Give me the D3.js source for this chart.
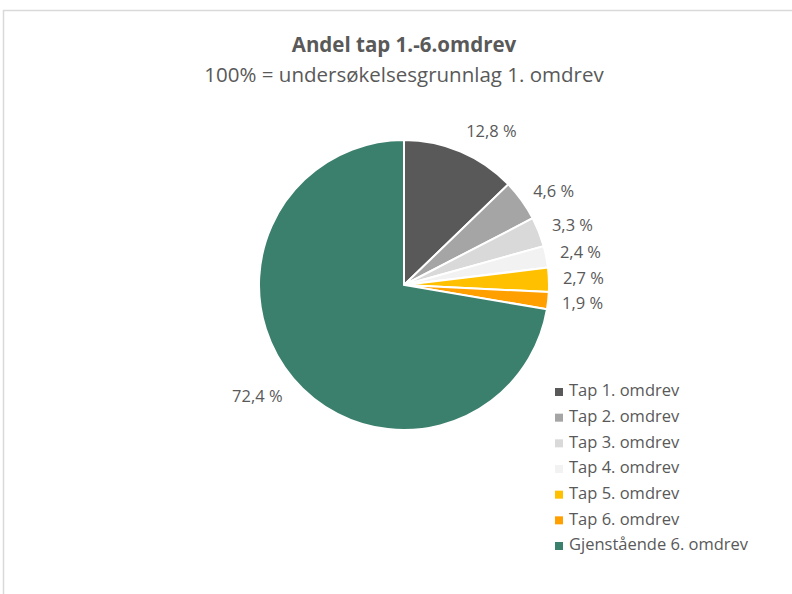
<!DOCTYPE html>
<html>
<head>
<meta charset="utf-8">
<script src="https://cdn.jsdelivr.net/npm/d3@7"></script>
<style>
  body { margin: 0; background: #fff; }
  text { font-family: "Open Sans", "Liberation Sans", sans-serif; fill: #595959; }
</style>
</head>
<body>
<div id="chart"></div>
<script>
// data
let categories = ["Tap 1. omdrev", "Tap 2. omdrev", "Tap 3. omdrev", "Tap 4. omdrev",
                  "Tap 5. omdrev", "Tap 6. omdrev", "Gjenstående 6. omdrev"];
let values = [12.8, 4.6, 3.3, 2.4, 2.7, 1.9, 72.4];
let valueLabels = ["12,8 %", "4,6 %", "3,3 %", "2,4 %", "2,7 %", "1,9 %", "72,4 %"];
let colors = ["#595959", "#a5a5a5", "#d9d9d9", "#f2f2f2", "#ffc000", "#ffa000", "#3b7f6d"];

let svgWidth = 792;
let svgHeight = 594;

let svg = d3.select("#chart")
  .append("svg")
  .attr("width", svgWidth)
  .attr("height", svgHeight);

// frame (only top and left edges visible in the crop)
svg.append("path")
  .attr("d", `M3.5,${svgHeight} V10.5 H${svgWidth}`)
  .attr("fill", "none")
  .attr("stroke", "#d9d9d9")
  .attr("stroke-width", 1.5);

// titles
svg.append("text")
  .attr("x", 404).attr("y", 52)
  .attr("text-anchor", "middle")
  .attr("font-size", "20.5px")
  .attr("font-weight", "bold")
  .text("Andel tap 1.-6.omdrev");

svg.append("text")
  .attr("x", 404).attr("y", 82)
  .attr("text-anchor", "middle")
  .attr("font-size", "20.5px")
  .text("100% = undersøkelsesgrunnlag 1. omdrev");

// pie
let cx = 404, cy = 285, radius = 145;

let pie = d3.pie().sort(null).value(d => d);
let arc = d3.arc().innerRadius(0).outerRadius(radius);

let pieGroup = svg.append("g")
  .attr("transform", `translate(${cx},${cy})`);

let arcs = pie(values);

pieGroup.selectAll("path")
  .data(arcs)
  .enter()
  .append("path")
  .attr("d", arc)
  .attr("fill", (d, i) => colors[i])
  .attr("stroke", "#fff")
  .attr("stroke-width", 2);

// outside labels: anchor near the slice middle, just beyond the rim
let labelR = radius + 14;
let lastY = -Infinity;
pieGroup.selectAll(".lbl")
  .data(arcs)
  .enter()
  .append("text")
  .attr("class", "lbl")
  .attr("font-size", "16.5px")
  .attr("dominant-baseline", "middle")
  .each(function(d, i) {
    let a = (d.startAngle + d.endAngle) / 2;
    let x = Math.sin(a) * labelR;
    let y = -Math.cos(a) * labelR;
    let right = x >= 0;
    if (right) {
      // keep stacked labels apart
      if (y < lastY + 25) y = lastY + 25;
      lastY = y;
      if (i === 0) y -= 6;
    } else {
      y += 10;
    }
    d3.select(this)
      .attr("x", x)
      .attr("y", y)
      .attr("text-anchor", right ? "start" : "end")
      .text(valueLabels[i]);
  });

// legend
let legendY = d3.scalePoint()
  .domain(categories)
  .range([392, 546]);

let legend = svg.append("g");

let rows = legend.selectAll("g")
  .data(categories)
  .enter()
  .append("g")
  .attr("transform", d => `translate(555,${legendY(d)})`);

rows.append("rect")
  .attr("x", 0).attr("y", -4)
  .attr("width", 8).attr("height", 8)
  .attr("fill", (d, i) => colors[i]);

rows.append("text")
  .attr("x", 14)
  .attr("y", 0)
  .attr("dominant-baseline", "middle")
  .attr("font-size", "16.5px")
  .text(d => d);
</script>
</body>
</html>
